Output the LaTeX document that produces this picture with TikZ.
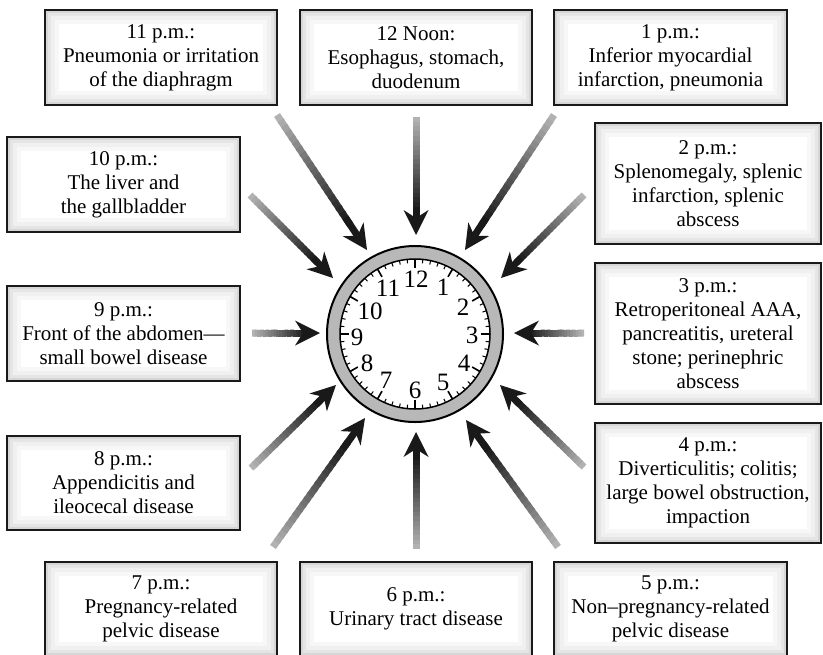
\documentclass[tikz,border=0pt]{standalone}
\usepackage{fontspec}
\setmainfont{Liberation Serif}
\usetikzlibrary{calc,arrows.meta}

\tikzset{
  hourbox/.style={draw=black!90, line width=1.2pt, fill=white, align=center,
    font=\fontsize{10.5}{12}\selectfont, inner sep=0pt,
    path picture={
      \draw[black!3, line width=14pt] (path picture bounding box.south west) rectangle (path picture bounding box.north east);
      \draw[black!6, line width=10pt] (path picture bounding box.south west) rectangle (path picture bounding box.north east);
      \draw[black!10, line width=6pt] (path picture bounding box.south west) rectangle (path picture bounding box.north east);
      \draw[black!16, line width=3pt] (path picture bounding box.south west) rectangle (path picture bounding box.north east);
    }},
  hourtip/.style={line width=3.5pt, black!90,
    -{Stealth[length=12.5pt, width=12.5pt, inset=4pt, line width=0pt]}},
  digit/.style={font=\fontsize{12.5}{14}\selectfont, inner sep=0pt}
}

\begin{document}
\begin{tikzpicture}[x=0.5pt, y=-0.5pt]
\clip (0,0) rectangle (823,654);
\fill[white] (0,0) rectangle (823,654);

%%   boxes   (name)   (x, y)   {text}
\node[hourbox, minimum width=116pt, minimum height=47.5pt] (b11) at (161,57.5) {11 p.m.:\\Pneumonia or irritation\\of the diaphragm};
\node[hourbox, minimum width=116pt, minimum height=47.5pt] (b12) at (416,57.5) {12 Noon:\\Esophagus, stomach,\\duodenum};
\node[hourbox, minimum width=116.5pt, minimum height=47.5pt] (b1) at (670.5,57.5) {1 p.m.:\\Inferior myocardial\\infarction, pneumonia};
\node[hourbox, minimum width=113pt, minimum height=60.5pt] (b2) at (708,183.5) {2 p.m.:\\Splenomegaly, splenic\\infarction, splenic\\abscess};
\node[hourbox, minimum width=113pt, minimum height=70.5pt] (b3) at (708,333.5) {3 p.m.:\\Retroperitoneal AAA,\\pancreatitis, ureteral\\stone; perinephric\\abscess};
\node[hourbox, minimum width=113pt, minimum height=60pt] (b4) at (708,483) {4 p.m.:\\Diverticulitis; colitis;\\large bowel obstruction,\\impaction};
\node[hourbox, minimum width=116.5pt, minimum height=47pt] (b5) at (670.5,609) {5 p.m.:\\Non–pregnancy-related\\pelvic disease};
\node[hourbox, minimum width=116pt, minimum height=47pt] (b6) at (416,609) {6 p.m.:\\Urinary tract disease};
\node[hourbox, minimum width=116pt, minimum height=47pt] (b7) at (161,609) {7 p.m.:\\Pregnancy-related\\pelvic disease};
\node[hourbox, minimum width=116.5pt, minimum height=47pt] (b8) at (123.5,483) {8 p.m.:\\Appendicitis and\\ileocecal disease};
\node[hourbox, minimum width=116.5pt, minimum height=47.5pt] (b9) at (123.5,333.5) {9 p.m.:\\Front of the abdomen—\\small bowel disease};
\node[hourbox, minimum width=116.5pt, minimum height=47.5pt] (b10) at (123.5,184.5) {10 p.m.:\\The liver and\\the gallbladder};

%% clock face
\coordinate (c) at (415,334);
\draw[fill=black!28, line width=1pt] (c) circle (88);
\draw[fill=white, line width=0.75pt] (c) circle (75);
\foreach \m in {0,...,59}
  \draw[line width=0.5pt] ([shift={(\m*6:75)}]c) -- ([shift={(\m*6:71)}]c);
\foreach \h in {1,...,12}
  \draw[line width=0.8pt] ([shift={(\h*30:75)}]c) -- ([shift={(\h*30:66)}]c);
\foreach \h/\x/\y in {12/416/279, 1/443/287, 2/463/307, 3/472/335, 4/464/363, 5/443/382,
                      6/415/390, 7/386/380, 8/367/363, 9/357/337, 10/370/311, 11/388/288}
  \node[digit] (n\h) at (\x,\y) {\h};

%% arrow ends
\coordinate (t12) at (416,117);  \coordinate (h12) at (416,235);
\coordinate (t1)  at (554,115);  \coordinate (h1)  at (465,250);
\coordinate (t2)  at (584,195);  \coordinate (h2)  at (501,278);
\coordinate (t3)  at (584,333);  \coordinate (h3)  at (514,333);
\coordinate (t4)  at (584,467);  \coordinate (h4)  at (500,385);
\coordinate (t5)  at (558,547);  \coordinate (h5)  at (466,420);
\coordinate (t6)  at (416,549);  \coordinate (h6)  at (416,432);
\coordinate (t7)  at (273,547);  \coordinate (h7)  at (365,418);
\coordinate (t8)  at (251,468);  \coordinate (h8)  at (336,385);
\coordinate (t9)  at (252,333);  \coordinate (h9)  at (320,333);
\coordinate (t10) at (250,195);  \coordinate (h10) at (333,278);
\coordinate (t11) at (277,115);  \coordinate (h11) at (367,250);

\foreach \s/\e in {t12/h12,t1/h1,t2/h2,t3/h3,t4/h4,t5/h5,t6/h6,t7/h7,t8/h8,t9/h9,t10/h10,t11/h11} {
  \foreach \i in {0,...,19} {
    \pgfmathsetmacro\pa{\i/20*0.8}
    \pgfmathsetmacro\pb{(\i+1.4)/20*0.8}
    \pgfmathsetmacro\tone{30+60*\i/19}
    \draw[line width=3.5pt, black!\tone] ($(\s)!\pa!(\e)$) -- ($(\s)!\pb!(\e)$);
  }
  \draw[hourtip] ($(\s)!0.78!(\e)$) -- (\e);
}
\end{tikzpicture}
\end{document}
